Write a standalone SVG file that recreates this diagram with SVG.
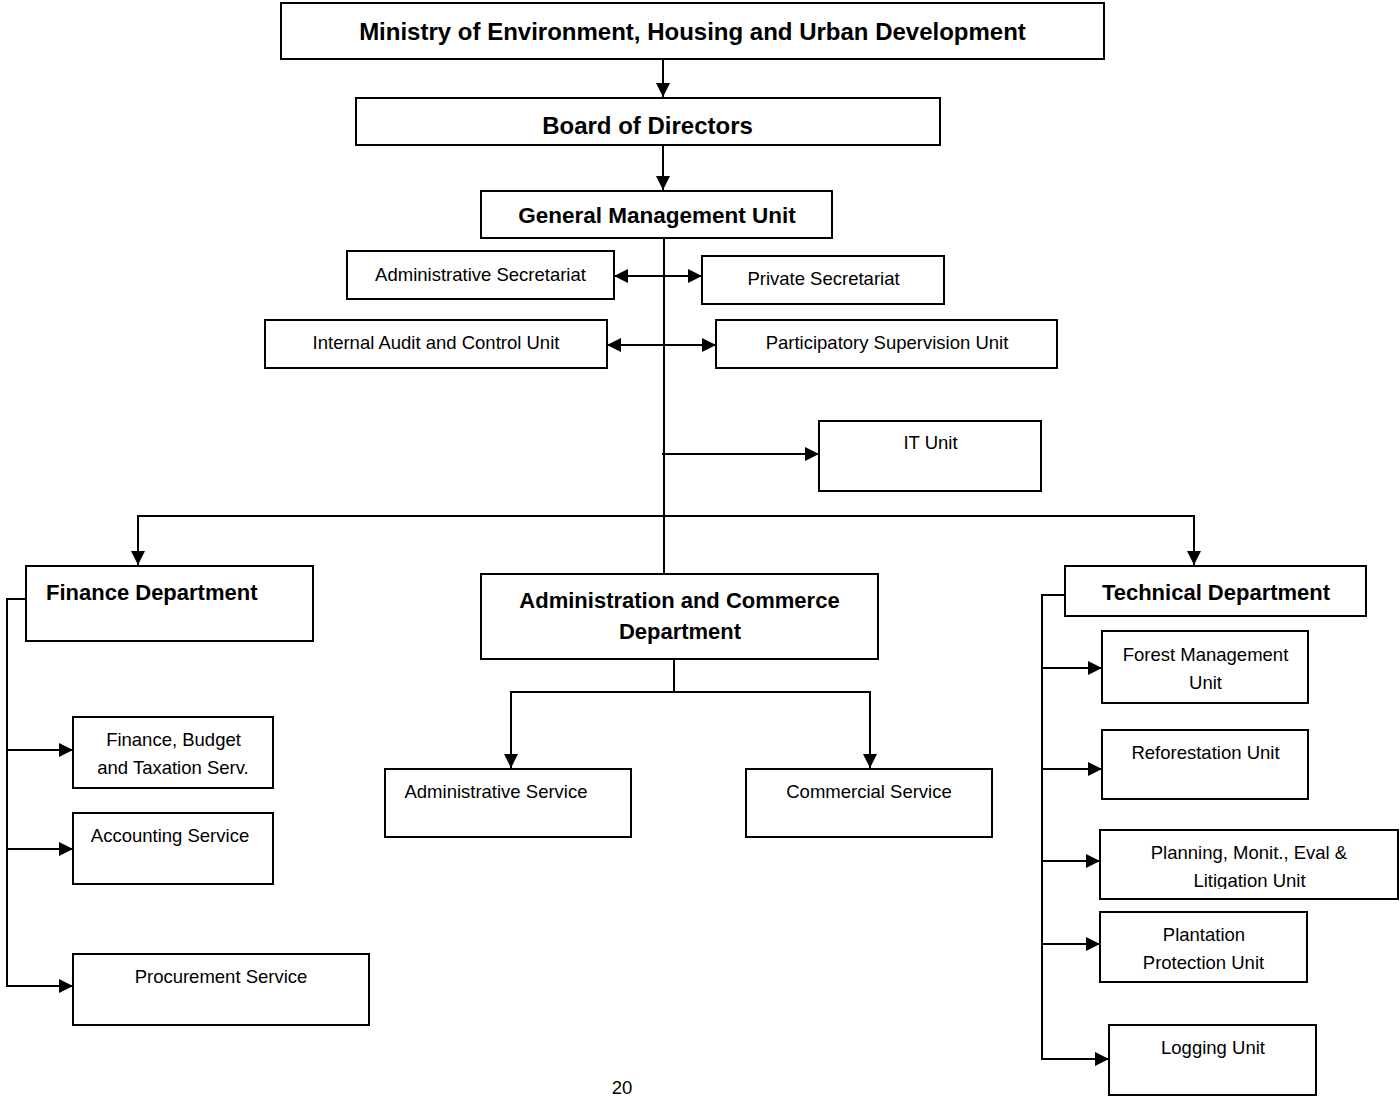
<svg xmlns="http://www.w3.org/2000/svg" width="1400" height="1096" viewBox="0 0 1400 1096">
<style>
  .box { fill: #fff; stroke: #000; stroke-width: 2; }
  .t { font-family: "Liberation Sans", Arial, sans-serif; font-size: 18.5px; fill: #000; text-anchor: middle; }
  .b { font-family: "Liberation Sans", Arial, sans-serif; font-weight: bold; fill: #000; text-anchor: middle; }
  .start { text-anchor: start; }
  .c { fill: none; stroke: #000; stroke-width: 2; }
</style>
<defs>
  <marker id="ah" viewBox="0 0 14 14" refX="14" refY="7" markerWidth="14" markerHeight="14" markerUnits="userSpaceOnUse" orient="auto-start-reverse">
    <path d="M0,0 L14,7 L0,14 Z" fill="#000"/>
  </marker>
  <clipPath id="clipPlan"><rect x="1100" y="830" width="298" height="59"/></clipPath>
</defs>
<rect width="1400" height="1096" fill="#fff"/>

<g id="connectors">
  <path class="c" d="M663,59 V97" marker-end="url(#ah)"/>
  <path class="c" d="M663,145 V190" marker-end="url(#ah)"/>
  <path class="c" d="M664,238 V574"/>
  <path class="c" d="M614,276 H702" marker-start="url(#ah)" marker-end="url(#ah)"/>
  <path class="c" d="M607,345 H716" marker-start="url(#ah)" marker-end="url(#ah)"/>
  <path class="c" d="M662,454 H819" marker-end="url(#ah)"/>
  <path class="c" d="M664,516 H138 V565" marker-end="url(#ah)"/>
  <path class="c" d="M664,516 H1194 V565" marker-end="url(#ah)"/>
  <path class="c" d="M674,659 V692 H511 V768" marker-end="url(#ah)"/>
  <path class="c" d="M674,692 H870 V768" marker-end="url(#ah)"/>
  <path class="c" d="M26,599 H7 V986 H73" marker-end="url(#ah)"/>
  <path class="c" d="M7,750 H73" marker-end="url(#ah)"/>
  <path class="c" d="M7,849 H73" marker-end="url(#ah)"/>
  <path class="c" d="M1065,595 H1042 V1059 H1109" marker-end="url(#ah)"/>
  <path class="c" d="M1042,668 H1102" marker-end="url(#ah)"/>
  <path class="c" d="M1042,769 H1102" marker-end="url(#ah)"/>
  <path class="c" d="M1042,861 H1100" marker-end="url(#ah)"/>
  <path class="c" d="M1042,944 H1100" marker-end="url(#ah)"/>
</g>

<g id="ministry">
  <rect class="box" x="281" y="3" width="823" height="56"/>
  <text class="b" x="692.5" y="40" font-size="24">Ministry of Environment, Housing and Urban Development</text>
</g>
<g id="board">
  <rect class="box" x="356" y="98" width="584" height="47"/>
  <text class="b" x="647.5" y="134" font-size="24">Board of Directors</text>
</g>
<g id="gmu">
  <rect class="box" x="481" y="191" width="351" height="47"/>
  <text class="b" x="657" y="223" font-size="22.5">General Management Unit</text>
</g>
<g id="admin-secretariat">
  <rect class="box" x="347" y="251" width="267" height="48"/>
  <text class="t" x="480.5" y="281">Administrative Secretariat</text>
</g>
<g id="private-secretariat">
  <rect class="box" x="702" y="256" width="242" height="48"/>
  <text class="t" x="823.5" y="285">Private Secretariat</text>
</g>
<g id="internal-audit">
  <rect class="box" x="265" y="320" width="342" height="48"/>
  <text class="t" x="436" y="349">Internal Audit and Control Unit</text>
</g>
<g id="participatory">
  <rect class="box" x="716" y="320" width="341" height="48"/>
  <text class="t" x="887" y="349">Participatory Supervision Unit</text>
</g>
<g id="it-unit">
  <rect class="box" x="819" y="421" width="222" height="70"/>
  <text class="t" x="930.5" y="449">IT Unit</text>
</g>
<g id="finance-dept">
  <rect class="box" x="26" y="566" width="287" height="75"/>
  <text class="b start" x="46" y="600" font-size="22">Finance Department</text>
</g>
<g id="admin-commerce-dept">
  <rect class="box" x="481" y="574" width="397" height="85"/>
  <text class="b" x="679.5" y="608" font-size="22">Administration and Commerce</text>
  <text class="b" x="680" y="639" font-size="22">Department</text>
</g>
<g id="technical-dept">
  <rect class="box" x="1065" y="566" width="301" height="50"/>
  <text class="b" x="1216" y="600" font-size="22">Technical Department</text>
</g>
<g id="finance-budget">
  <rect class="box" x="73" y="717" width="200" height="71"/>
  <text class="t" x="173.5" y="746">Finance, Budget</text>
  <text class="t" x="173" y="774">and Taxation Serv.</text>
</g>
<g id="accounting">
  <rect class="box" x="73" y="813" width="200" height="71"/>
  <text class="t" x="170" y="842">Accounting Service</text>
</g>
<g id="procurement">
  <rect class="box" x="73" y="954" width="296" height="71"/>
  <text class="t" x="221" y="983">Procurement Service</text>
</g>
<g id="administrative-service">
  <rect class="box" x="385" y="769" width="246" height="68"/>
  <text class="t" x="496" y="798">Administrative Service</text>
</g>
<g id="commercial-service">
  <rect class="box" x="746" y="769" width="246" height="68"/>
  <text class="t" x="869" y="798">Commercial Service</text>
</g>
<g id="forest-management">
  <rect class="box" x="1102" y="631" width="206" height="72"/>
  <text class="t" x="1205.5" y="661">Forest Management</text>
  <text class="t" x="1205.5" y="689">Unit</text>
</g>
<g id="reforestation">
  <rect class="box" x="1102" y="730" width="206" height="69"/>
  <text class="t" x="1205.5" y="759">Reforestation Unit</text>
</g>
<g id="planning">
  <rect class="box" x="1100" y="830" width="298" height="69"/>
  <g clip-path="url(#clipPlan)">
    <text class="t" x="1249" y="859">Planning, Monit., Eval &amp;</text>
    <text class="t" x="1249.5" y="887">Litigation Unit</text>
  </g>
</g>
<g id="plantation-protection">
  <rect class="box" x="1100" y="912" width="207" height="70"/>
  <text class="t" x="1204" y="941">Plantation</text>
  <text class="t" x="1203.5" y="969">Protection Unit</text>
</g>
<g id="logging">
  <rect class="box" x="1109" y="1025" width="207" height="70"/>
  <text class="t" x="1213" y="1054">Logging Unit</text>
</g>
<text class="t" x="622" y="1094" font-size="18">20</text>
</svg>
